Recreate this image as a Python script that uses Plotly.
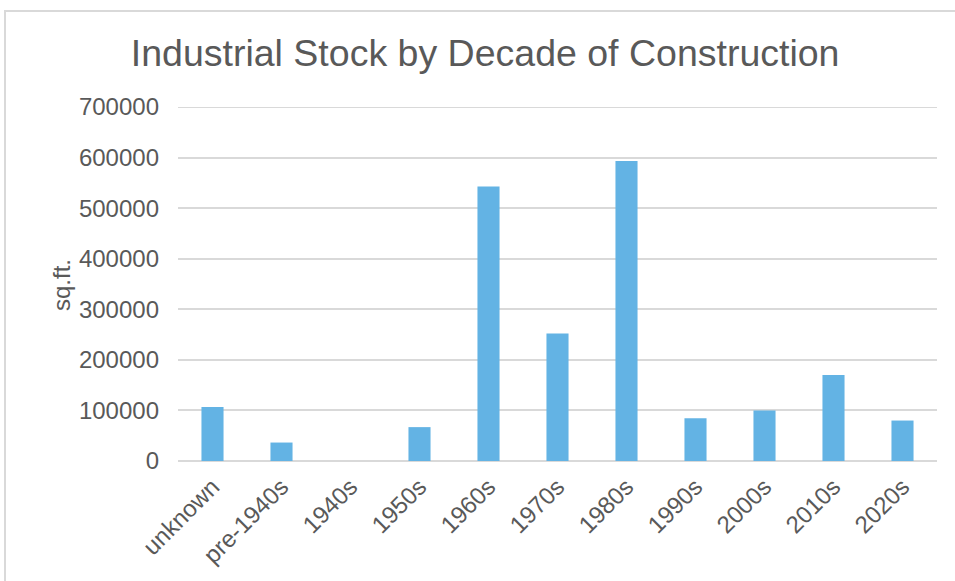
import plotly.graph_objects as go

categories = ["unknown", "pre-1940s", "1940s", "1950s", "1960s", "1970s",
              "1980s", "1990s", "2000s", "2010s", "2020s"]
sqft = [107000, 36500, 0, 67000, 543000, 252000, 593000, 84500, 100000, 170000, 80000]
y_ticks = [0, 100000, 200000, 300000, 400000, 500000, 600000, 700000]

FONT = "Liberation Sans, Arial, sans-serif"
GREY = "#595959"

fig = go.Figure(go.Bar(
    x=categories, y=sqft,
    marker=dict(color="#63B3E4", line=dict(width=0)),
))

fig.update_layout(
    width=955, height=581,
    margin=dict(l=178, r=18, t=107, b=120),
    paper_bgcolor="white", plot_bgcolor="white",
    bargap=0.68,
    showlegend=False,
    title=dict(text="Industrial Stock by Decade of Construction",
               x=0.508, xanchor="center", y=0.909, yanchor="middle",
               font=dict(family=FONT, size=37.5, color=GREY)),
    font=dict(family=FONT, color=GREY),
)

fig.update_yaxes(
    range=[0, 700000], tickvals=y_ticks, tickformat="d",
    showgrid=True, gridcolor="#D9D9D9", gridwidth=2,
    zeroline=True, zerolinecolor="#D9D9D9", zerolinewidth=2,
    showline=False, ticks="", ticklabelstandoff=18,
    tickfont=dict(family=FONT, size=24, color=GREY),
)
fig.update_xaxes(
    tickangle=-45, showgrid=False, showline=False, ticks="",
    ticklabelstandoff=6,
    tickfont=dict(family=FONT, size=24, color=GREY),
)

# top gridline (Plotly skips a gridline lying exactly on the plot edge)
fig.add_shape(
    type="line", xref="paper", yref="y", x0=0, x1=1,
    y0=y_ticks[-1], y1=y_ticks[-1],
    line=dict(color="#D9D9D9", width=2), layer="below",
)

fig.add_annotation(
    text="sq.ft.", textangle=-90, xref="paper", yref="paper",
    x=(61 - 178) / 759, y=(461 - 285) / 354, xanchor="center", yanchor="middle",
    showarrow=False, font=dict(family=FONT, size=24, color=GREY),
)

fig.add_shape(
    type="rect", xref="paper", yref="paper",
    x0=(5 - 178) / 759, x1=(1000 - 178) / 759,
    y0=(461 - 700) / 354, y1=(461 - 11) / 354,
    line=dict(color="#D9D9D9", width=2), fillcolor="rgba(0,0,0,0)", layer="below",
)

fig.write_html("out.html", config={"displayModeBar": False},
               post_script="document.body.style.margin='0';document.body.style.overflow='hidden';")
